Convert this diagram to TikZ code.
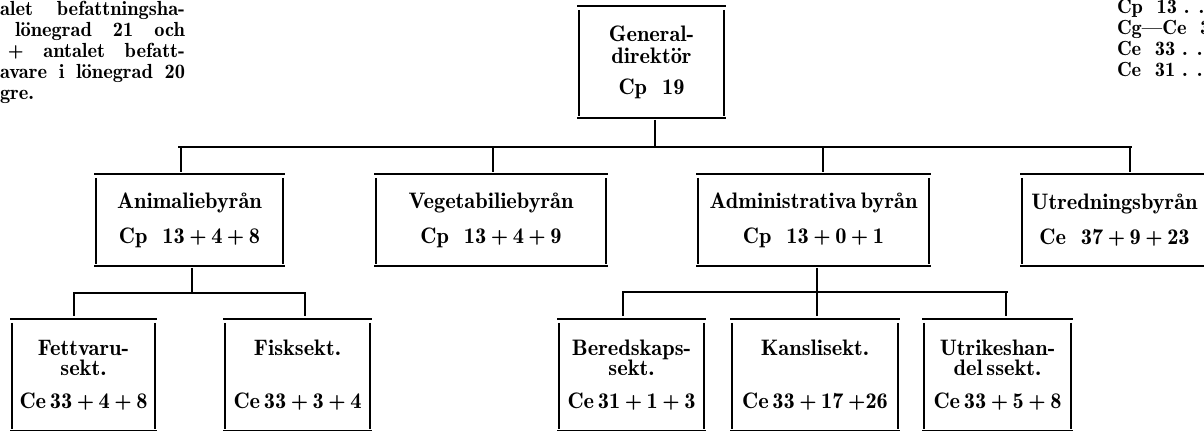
\documentclass[tikz,border=0pt]{standalone}
\usepackage{fix-cm}
\newcommand{\boxfont}{\fontsize{11.2}{10}\fontseries{b}\selectfont}
\newcommand{\margfont}{\fontsize{10.2}{10.5}\fontseries{b}\selectfont}
\newcommand{\pl}{\hspace{.2em}+\hspace{.2em}}
\newcommand{\openframe}[1]{%
  \draw[ln] ([xshift=-1pt]#1.north west) -- ([xshift=1pt]#1.north east);
  \draw[ln] ([xshift=-1pt]#1.south west) -- ([xshift=1pt]#1.south east);
  \draw[ln] ([yshift=-2pt]#1.north west) -- ([yshift=1.2pt]#1.south west);
  \draw[ln] ([yshift=-2pt]#1.north east) -- ([yshift=1.2pt]#1.south east);}
\begin{document}
\begin{tikzpicture}[x=0.5pt,y=-0.5pt,
  ln/.style={line width=0.9pt},
  bx/.style={inner sep=0pt, outer sep=0pt, align=center, font=\boxfont},
  marg/.style={inner sep=0pt, outer sep=0pt, anchor=base west, font=\margfont}]
\useasboundingbox (0,0) rectangle (1204,431);
\clip (0,0) rectangle (1204,431);

% margin texts
\node[marg] (m1) at (0,16) {\hbox to 92.5pt{alet\hfill befattningsha-}};
\node[marg] (m2) at (15,37) {\hbox to 85pt{lönegrad\hfill 21\hfill och}};
\node[marg] (m3) at (8,58) {\hbox to 88.5pt{+\hfill antalet\hfill befatt-}};
\node[marg] (m4) at (0,79) {\hbox to 92.5pt{avare\hfill i\hfill lönegrad\hfill 20}};
\node[marg] (m5) at (0,100) {gre.};
\node[marg] (r1) at (1117,14) {Cp\ \ 13 . . . . .};
\node[marg] (r2) at (1117,35) {Cg---Ce\ \ 3};
\node[marg] (r3) at (1117,56) {Ce\ \ 33 . . . . .};
\node[marg] (r4) at (1117,77) {Ce\ \ 31 . . . . .};

% boxes
\node[bx, minimum width=72.5pt, minimum height=56pt] (gen) at (651.5,62) {General-\\[1pt]direktör\\[5.5pt]Cp\ \ 19};
\node[bx, minimum width=93.5pt, minimum height=46pt] (anim) at (189.5,220) {Animaliebyrån\\[6.5pt]Cp\ \ 13\pl 4\pl 8};
\node[bx, minimum width=115pt, minimum height=46pt] (veg) at (491,220) {Vegetabiliebyrån\\[6.5pt]Cp\ \ 13\pl 4\pl 9};
\node[bx, minimum width=115.5pt, minimum height=46pt] (adm) at (813.5,220) {Administrativa\hspace{.2em}byrån\\[6.5pt]Cp\ \ 13\pl 0\pl 1};
\node[bx, minimum width=92.5pt, minimum height=46pt] (utr) at (1114.5,220) {Utredningsbyrån\\[6.5pt]Ce\ \ 37\pl 9\pl 23};
\node[bx, minimum width=71.5pt, minimum height=56pt] (fett) at (83.5,375) {Fettvaru-\\sekt.\\[6.5pt]Ce\,33\pl 4\pl 8};
\node[bx, minimum width=72.5pt, minimum height=56pt] (fisk) at (297.5,375) {Fisksekt.\\[16.5pt]Ce\,33\pl 3\pl 4};
\node[bx, minimum width=72.5pt, minimum height=56pt] (ber) at (631.5,375) {Beredskaps-\\sekt.\\[6.5pt]Ce\,31\pl 1\pl 3};
\node[bx, minimum width=83pt, minimum height=56pt] (kan) at (815,375) {Kanslisekt.\\[16.5pt]Ce\,33\pl 17\hspace{.2em}+26};
\node[bx, minimum width=73.5pt, minimum height=56pt] (uth) at (997.5,375) {Utrikeshan-\\del\,ssekt.\\[6.5pt]Ce\,33\pl 5\pl 8};

\foreach \b in {gen,anim,veg,adm,utr,fett,fisk,ber,kan,uth}{\openframe{\b}}

% main bus
\coordinate (g0) at (655,147);
\coordinate (busL) at (178,147);
\coordinate (busR) at (1132,147);
\coordinate (dA) at (181,147);
\coordinate (dV) at (493,147);
\coordinate (dD) at (823,147);
\coordinate (dU) at (1130,147);
\draw[ln, shorten <=1pt] (gen.south -| g0) -- (g0);
\draw[ln] (busL) -- (busR);
\foreach \c/\n in {dA/anim,dV/veg,dD/adm,dU/utr}{\draw[ln, shorten >=1pt] (\c) -- (\c |- \n.north);}

% Animaliebyrån sub-bus
\coordinate (sA) at (192,293);
\coordinate (sAL) at (73,293);
\coordinate (sAR) at (306,293);
\coordinate (eF) at (74,293);
\coordinate (eK) at (305,293);
\draw[ln, shorten <=1pt] (anim.south -| sA) -- (sA);
\draw[ln] (sAL) -- (sAR);
\draw[ln, shorten >=1.5pt] (eF) -- (eF |- fett.north);
\draw[ln, shorten >=1.5pt] (eK) -- (eK |- fisk.north);

% Administrativa byrån sub-bus
\coordinate (sD) at (817,292);
\coordinate (sDL) at (622,292);
\coordinate (sDR) at (1008,292);
\coordinate (eB) at (623,292);
\coordinate (eU) at (1006,292);
\draw[ln, shorten <=1pt] (adm.south -| sD) -- (sD);
\draw[ln] (sDL) -- (sDR);
\draw[ln, shorten >=1.5pt] (eB) -- (eB |- ber.north);
\draw[ln, shorten >=1.5pt] (sD) -- (sD |- kan.north);
\draw[ln, shorten >=1.5pt] (eU) -- (eU |- uth.north);
\end{tikzpicture}
\end{document}
